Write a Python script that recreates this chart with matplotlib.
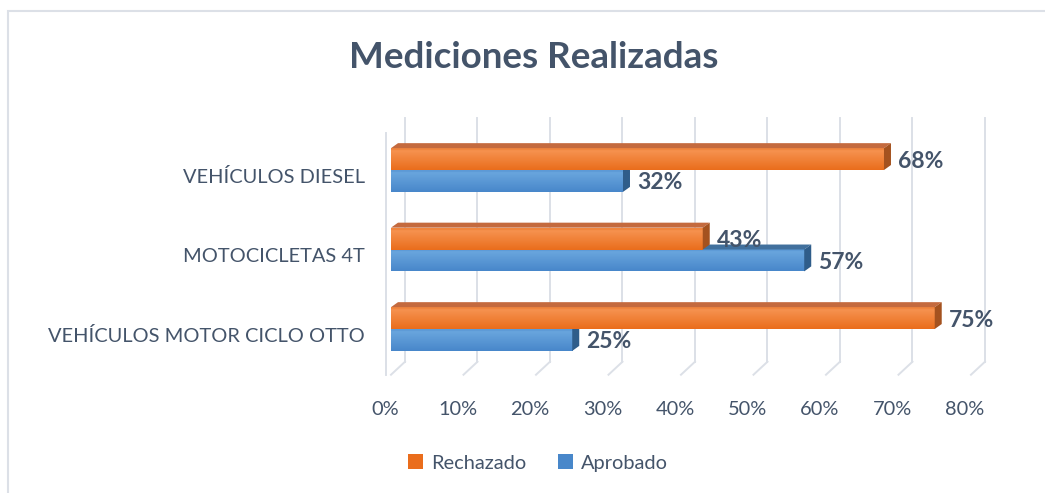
import numpy as np
import matplotlib.pyplot as plt
from matplotlib.patches import Polygon, Patch, Rectangle
from matplotlib.transforms import offset_copy

plt.rcParams['font.family'] = ['Lato', 'DejaVu Sans']

categorias = ['VEHÍCULOS MOTOR CICLO OTTO', 'MOTOCICLETAS 4T', 'VEHÍCULOS DIESEL']
rechazado = [0.75, 0.43, 0.68]
aprobado = [0.25, 0.57, 0.32]
ticks_x = [0.0, 0.1, 0.2, 0.3, 0.4, 0.5, 0.6, 0.7, 0.8]
etiquetas_x = ['0%', '10%', '20%', '30%', '40%', '50%', '60%', '70%', '80%']

texto = '#44546A'
gris = '#DCE0E7'
naranja = {'claro': '#F79756', 'oscuro': '#EA6D1C', 'arriba': '#C46A3E', 'lado': '#A4521F'}
azul = {'claro': '#6DA9E0', 'oscuro': '#4887CA', 'arriba': '#41709D', 'lado': '#2F5D8A'}

fig = plt.figure(figsize=(10.45, 4.93), dpi=100)
ax = fig.add_axes([391 / 1045, 0.2399, 0.5550, 0.4944])
ax.set_xlim(0, 0.8)
ax.set_ylim(-0.5, 2.566)
ax.set_autoscale_on(False)
for s in ax.spines.values():
    s.set_visible(False)
ax.set_facecolor('none')

# marco del grafico (solo arriba e izquierda)
fig.add_artist(Rectangle((8 / 1045, -0.1), 1.2, 1.1 - 11 / 493, transform=fig.transFigure,
                         fill=False, edgecolor=gris, lw=1.5))


def desplazar(x, y, dx, dy):
    px, py = ax.transData.transform((x, y))
    return ax.transData.inverted().transform((px + dx, py + dy))


# rejilla 3D: pared de fondo y piso
fondo = (14, 13)
y_min, y_max = ax.get_ylim()
for t in ticks_x:
    p0 = (t, y_min)
    p1 = desplazar(t, y_min, *fondo)
    p2 = desplazar(t, y_max, *fondo)
    ax.plot([p0[0], p1[0]], [p0[1], p1[1]], color=gris, lw=1.4, zorder=1, clip_on=False)
    ax.plot([p1[0], p2[0]], [p1[1], p2[1]], color=gris, lw=1.4, zorder=1, clip_on=False)
pared = offset_copy(ax.transData, fig=fig, x=-5, y=0, units='dots')
ax.plot([0, 0], [y_min, y_max - 0.03], color=gris, lw=1.4, transform=pared, zorder=1, clip_on=False)

alto = 0.275
sep = 0.075
prof = (7, 5)


def barra(v, y0, y1, col):
    grad = np.linspace(0, 1, 40)[:, None]
    c1 = np.array(plt.matplotlib.colors.to_rgb(col['claro']))
    c2 = np.array(plt.matplotlib.colors.to_rgb(col['oscuro']))
    img = c1 * (1 - grad[..., None]) + c2 * grad[..., None]
    img[:4] = c1 * 0.6 + c2 * 0.4
    ax.imshow(img, extent=[0, v, y0, y1], aspect='auto', origin='upper',
              interpolation='bilinear', zorder=3)
    arriba = [(0, y1), (v, y1), desplazar(v, y1, *prof), desplazar(0, y1, *prof)]
    lado = [(v, y0), (v, y1), desplazar(v, y1, *prof), desplazar(v, y0, *prof)]
    ax.add_patch(Polygon(arriba, closed=True, facecolor=col['arriba'], edgecolor='none', zorder=3))
    ax.add_patch(Polygon(lado, closed=True, facecolor=col['lado'], edgecolor='none', zorder=3))


def etiqueta(v, yc):
    x, y = desplazar(v, yc, 14, -2)
    ax.text(x, y, f'{round(v * 100)}%', ha='left', va='center', fontsize=16.5,
            fontweight='bold', color=texto, zorder=5)


for i in range(len(categorias)):
    # azul primero para que la barra naranja la tape
    barra(aprobado[i], i - alto + sep, i + sep, azul)
for i in range(len(categorias)):
    barra(rechazado[i], i + sep, i + alto + sep, naranja)
for i in range(len(categorias)):
    etiqueta(aprobado[i], i - alto / 2 + sep)
    etiqueta(rechazado[i], i + alto / 2 + sep)

ax.set_xlim(0, 0.8)
ax.set_ylim(y_min, y_max)

ax.set_yticks(range(len(categorias)))
ax.set_yticklabels(categorias, fontsize=14.4, color=texto)
ax.set_xticks(ticks_x)
ax.set_xticklabels(etiquetas_x, fontsize=14.4, color=texto)
ax.tick_params(length=0)
ax.tick_params(axis='y', pad=19)
ax.tick_params(axis='x', pad=19)
for lab in ax.get_xticklabels():
    lab.set_transform(lab.get_transform() + plt.matplotlib.transforms.Affine2D().translate(-6, 0))

fig.text(534 / 1045, 1 - 58 / 493, 'Mediciones Realizadas', ha='center', va='center',
         fontsize=26.5, fontweight='bold', color=texto)

fig.legend(handles=[Patch(facecolor=naranja['oscuro'], label='Rechazado'),
                    Patch(facecolor=azul['oscuro'], label='Aprobado')],
           loc='center', bbox_to_anchor=(538 / 1045, 1 - 463 / 493), ncol=2, frameon=False,
           fontsize=14.4, handlelength=0.75, handleheight=0.75, handletextpad=0.4,
           columnspacing=1.6, labelcolor=texto)

fig.savefig('out.png', dpi=100)
